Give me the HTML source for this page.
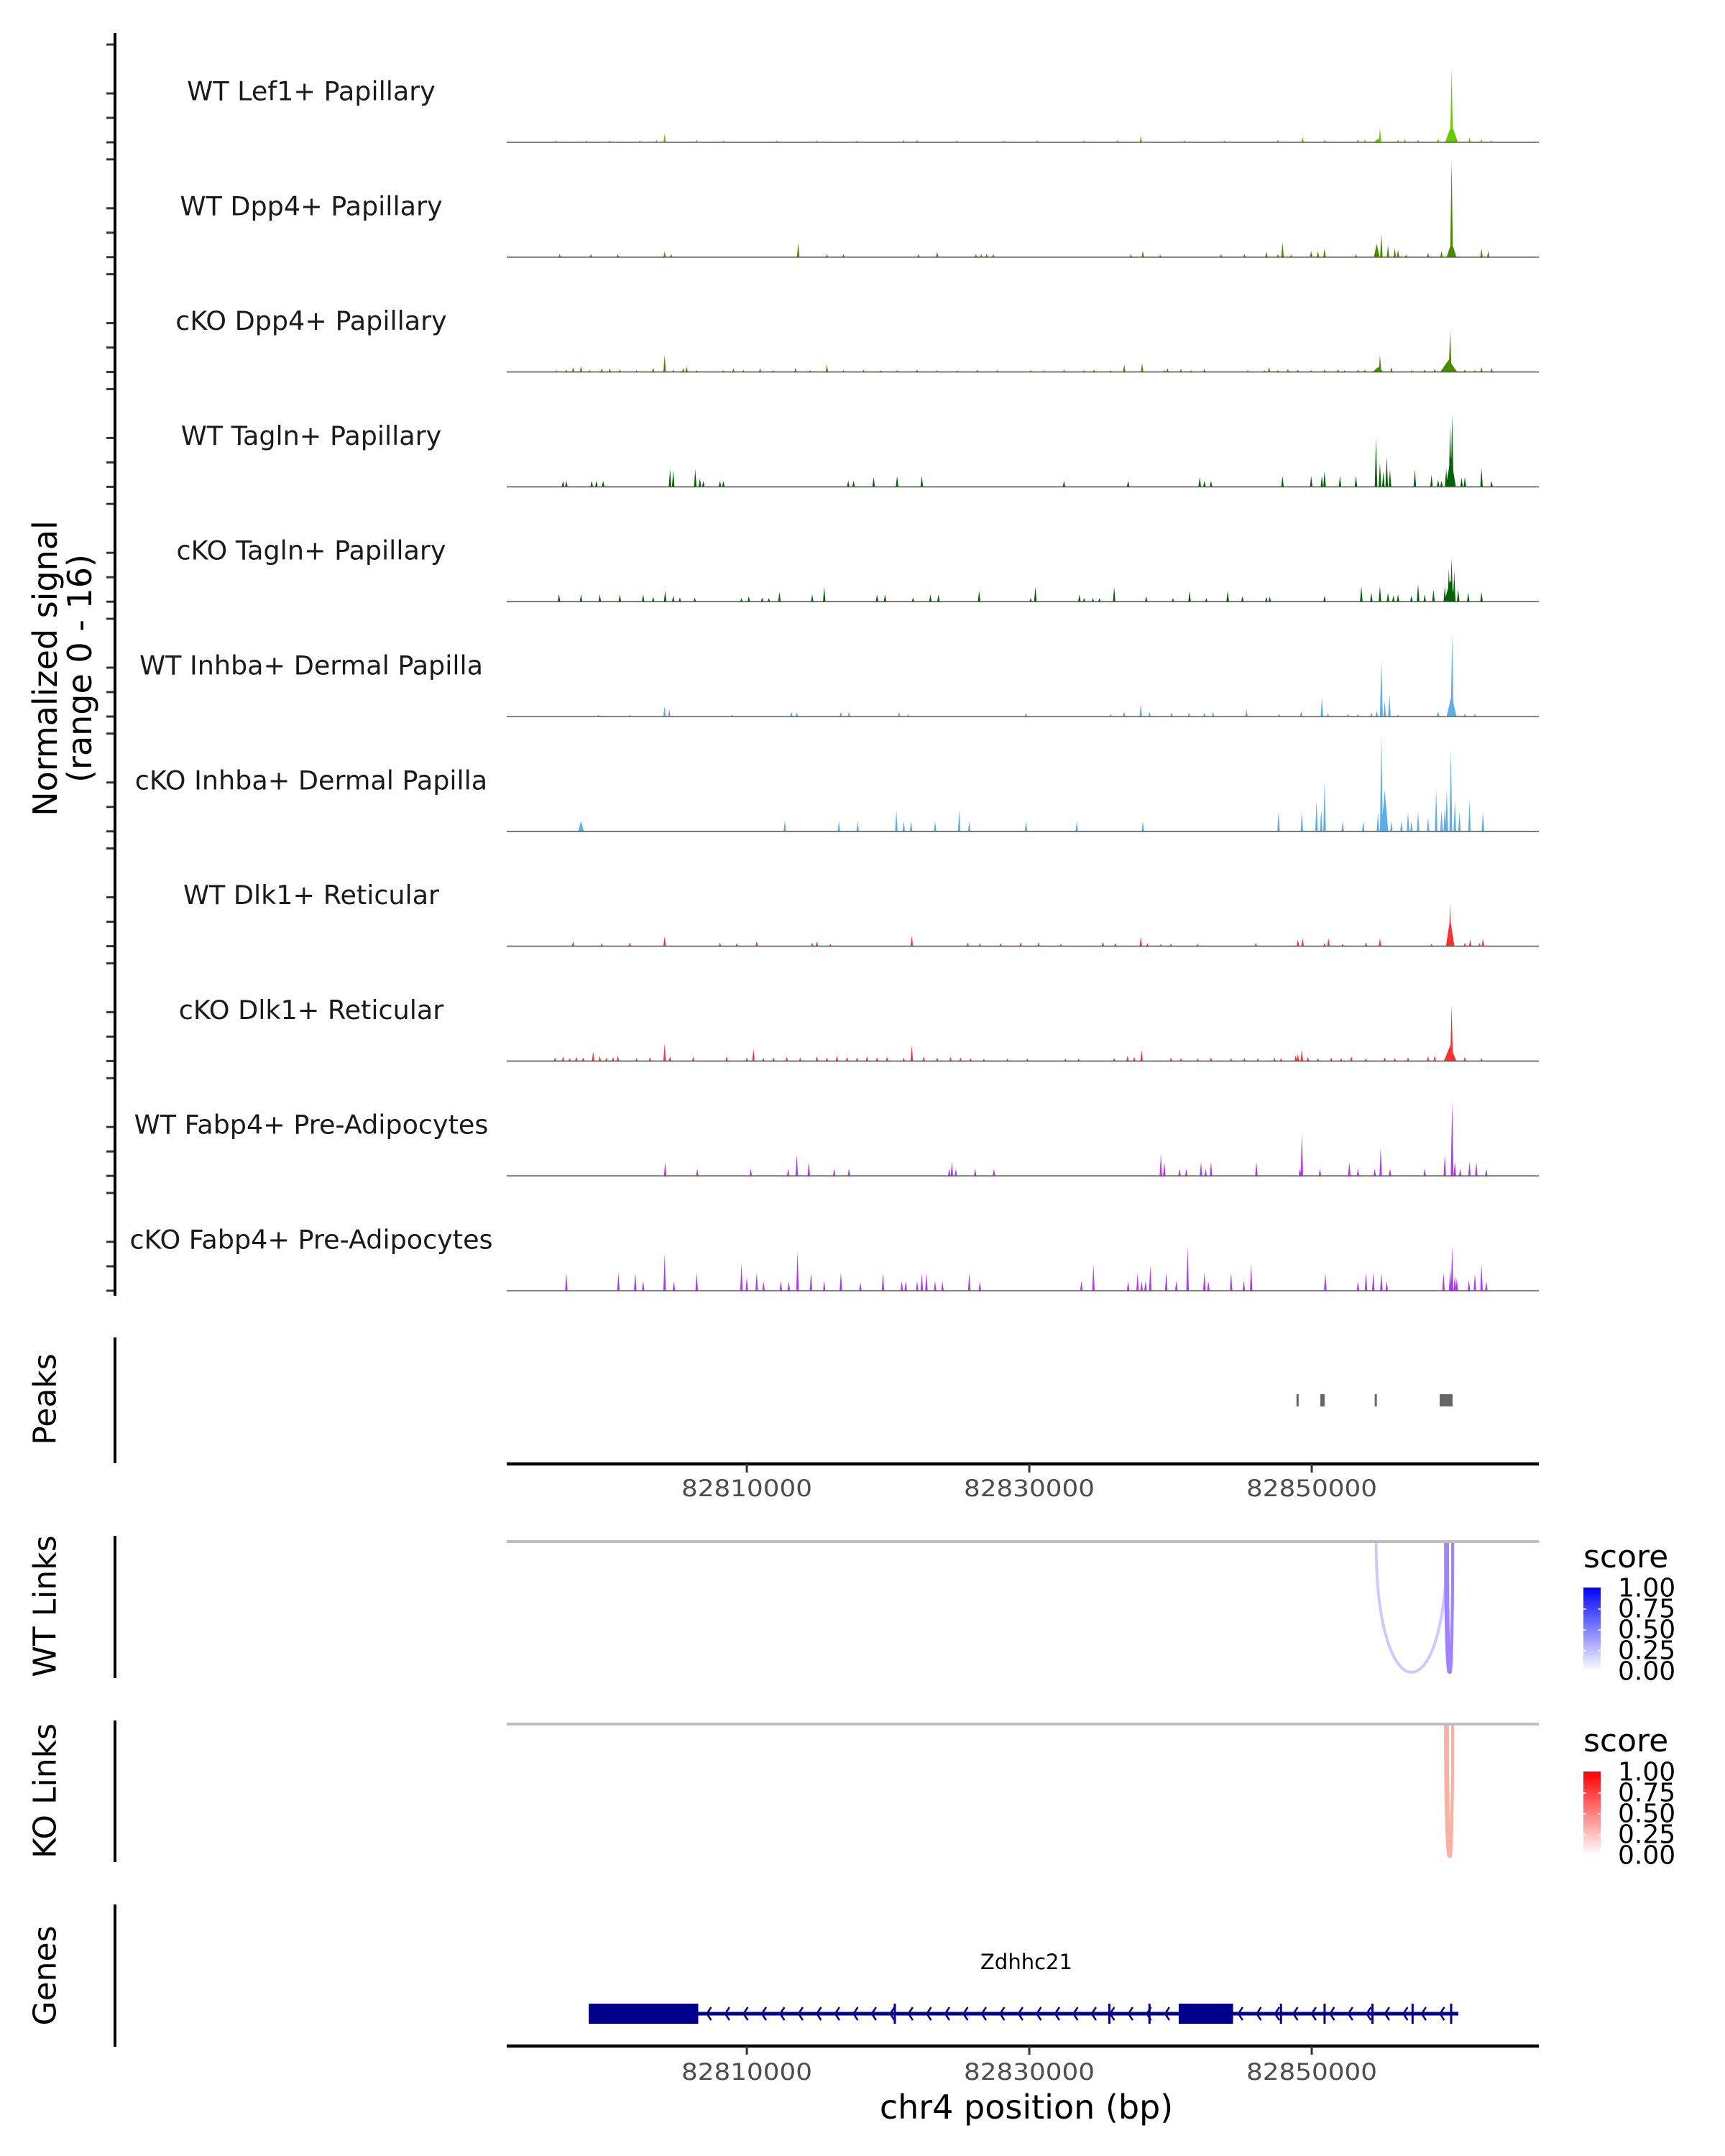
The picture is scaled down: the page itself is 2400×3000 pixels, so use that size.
<!DOCTYPE html>
<html><head><meta charset="utf-8"><style>
html,body{margin:0;padding:0;background:#fff;}
svg{display:block;font-family:"DejaVu Sans","Liberation Sans",sans-serif;}
</style></head>
<body>
<svg id="chart" xmlns="http://www.w3.org/2000/svg" width="2400" height="3000" viewBox="0 0 2400 3000">
<rect width="2400" height="3000" fill="#fff"/>
<g id="tracks"></g>
<line x1="160" y1="46" x2="160" y2="1803" stroke="#000" stroke-width="4"/>
<text transform="rotate(-90)" x="-930" y="63" font-size="46" text-anchor="middle" dominant-baseline="central" fill="#000">Normalized signal</text>
<text transform="rotate(-90)" x="-930" y="111" font-size="46" text-anchor="middle" dominant-baseline="central" fill="#000">(range 0 - 16)</text>

<line x1="160" y1="1861" x2="160" y2="2036" stroke="#000" stroke-width="4"/>
<text transform="rotate(-90)" x="-1947" y="63" font-size="44" text-anchor="middle" dominant-baseline="central">Peaks</text>
<g id="peaks"></g>
<line x1="705" y1="2037" x2="2141" y2="2037" stroke="#000" stroke-width="4.5"/>
<g id="xaxis1"></g>

<line x1="160" y1="2137" x2="160" y2="2335" stroke="#000" stroke-width="4"/>
<text transform="rotate(-90)" x="-2235" y="63" font-size="44" text-anchor="middle" dominant-baseline="central">WT Links</text>
<line x1="705" y1="2145" x2="2141" y2="2145" stroke="#bebebe" stroke-width="4"/>
<g id="wtlinks"></g>

<line x1="160" y1="2394" x2="160" y2="2591" stroke="#000" stroke-width="4"/>
<text transform="rotate(-90)" x="-2492" y="63" font-size="44" text-anchor="middle" dominant-baseline="central">KO Links</text>
<line x1="705" y1="2399" x2="2141" y2="2399" stroke="#bebebe" stroke-width="4"/>
<g id="kolinks"></g>

<line x1="160" y1="2650" x2="160" y2="2848" stroke="#000" stroke-width="4"/>
<text transform="rotate(-90)" x="-2749" y="63" font-size="44" text-anchor="middle" dominant-baseline="central">Genes</text>
<g id="genes"></g>
<text x="1428" y="2730" font-size="29" text-anchor="middle" dominant-baseline="central" fill="#000">Zdhhc21</text>
<line x1="705" y1="2847" x2="2141" y2="2847" stroke="#000" stroke-width="4.5"/>
<g id="xaxis2"></g>
<text x="1428" y="2932" font-size="46" text-anchor="middle" dominant-baseline="central" fill="#000">chr4 position (bp)</text>

<defs>
<linearGradient id="gBlue" x1="0" y1="1" x2="0" y2="0"><stop offset="0" stop-color="#ffffff"/><stop offset="1" stop-color="#0000ff"/></linearGradient>
<linearGradient id="gRed" x1="0" y1="1" x2="0" y2="0"><stop offset="0" stop-color="#ffffff"/><stop offset="1" stop-color="#ff0000"/></linearGradient>
</defs>
<g id="legends"></g>
</svg>
<script>
const ORIGIN_BP = 82790000;
const X_MIN_KB = 3.00, X_MAX_KB = 76.08;
const X_TICKS_BP = [82810000, 82830000, 82850000];
const Y_MAX = 16;
const trackNames = ["WT Lef1+ Papillary","WT Dpp4+ Papillary","cKO Dpp4+ Papillary","WT Tagln+ Papillary","cKO Tagln+ Papillary","WT Inhba+ Dermal Papilla","cKO Inhba+ Dermal Papilla","WT Dlk1+ Reticular","cKO Dlk1+ Reticular","WT Fabp4+ Pre-Adipocytes","cKO Fabp4+ Pre-Adipocytes"];
const trackColors = ["#66cc00","#4a8a00","#4a8a00","#006400","#006400","#5dadec","#5dadec","#ff3030","#ff3030","#b23aee","#b23aee"];
// peaks: [kb from origin, normalized signal, optional half-width kb]
const t1 = [[69.90,12.2,0.1],[69.90,2.9,0.45],[68.95,0.6],[71.17,0.8],[72.02,0.5],[66.59,0.5],[64.83,2.3],[64.7,0.6,0.3],[47.90,1.1],[14.18,1.4],[59.35,0.9],
 [6.51,0.3],[8.64,0.3],[10.30,0.3],[12.43,0.3],[13.61,0.4],[16.45,0.4],[18.34,0.3],[22.12,0.3],[24.96,0.3],[27.80,0.3],[31.11,0.4],[32.06,0.4],[34.89,0.3],[38.21,0.3],[40.57,0.3],[43.88,0.3],[46.25,0.4],[50.98,0.3],[53.81,0.3],[57.60,0.4],[60.91,0.4],[63.27,0.5],[63.75,0.4],[66.11,0.4],[67.53,0.4],[72.73,0.3]];
const t2 = [[69.90,16,0.1],[69.90,2.5,0.35],[64.93,3.8],[64.60,2.2,0.2],[65.40,2.0],[65.88,1.5],[66.11,1.2],[57.93,2.4],[23.64,2.4],[60.91,1.4],[59.96,1.0],[60.44,1.0],[72.02,1.4],[72.50,1.0],[68.24,0.7],[69.19,1.0],[14.18,0.9],[14.65,0.5],[6.75,0.5],[8.97,0.5],[10.87,0.5],[33.48,0.9],[32.15,0.5],[25.67,0.5],[26.85,0.5],[36.22,0.5],[36.60,0.5],[36.98,0.5],[37.45,0.5],[47.19,0.5],[48.04,1.0],[49.27,0.4],[53.58,0.5],[55.23,0.5],[56.79,0.9],[57.60,0.5],[58.54,0.4],[63.13,0.5],[66.68,0.4]];
const t3 = [[69.80,7.0,0.1],[69.70,2.0,0.6],[64.83,2.8],[64.7,0.8,0.4],[14.18,2.8],[47.99,1.5],[46.72,1.2],[25.67,1.2],[56.98,0.8],[20.94,0.6],[23.45,0.7],[7.70,0.8],[8.26,1.0],[9.73,0.6],[10.30,0.6],[13.37,0.7],[15.50,0.7],[15.74,0.9],[19.05,0.6],[52.40,0.5],[49.79,0.6],[50.74,0.5],[72.02,0.8],[72.73,0.7],[65.64,0.8],[58.31,0.5],[61.86,0.5],
 [6.51,0.3],[7.22,0.4],[8.88,0.3],[11.01,0.4],[12.19,0.3],[14.79,0.4],[16.45,0.3],[18.34,0.3],[19.76,0.3],[21.89,0.3],[24.49,0.3],[26.85,0.3],[28.27,0.4],[29.45,0.3],[30.64,0.3],[32.06,0.4],[33.48,0.3],[34.89,0.3],[36.31,0.4],[37.73,0.3],[40.10,0.3],[41.04,0.3],[42.46,0.4],[43.88,0.3],[44.59,0.4],[45.77,0.3],[49.56,0.3],[51.45,0.3],[55.47,0.3],[56.65,0.3],[57.60,0.3],[59.02,0.4],[59.96,0.3],[60.91,0.4],[62.33,0.3],[63.27,0.4],[63.75,0.4],[67.06,0.3],[68.00,0.4],[68.71,0.5],[70.84,0.4],[71.55,0.3]];
const t4 = [[69.94,11.8,0.1],[69.80,10,0.1],[69.85,5,0.35],[64.55,8.0],[64.83,4],[65.31,5.0],[65.54,2.8],[65.07,2.5],[72.02,3.1],[67.30,2.9],[68.48,2],[70.84,1.6],[70.61,1.5],[69.19,1.0],[60.91,2.6],[60.72,1.8],[62.00,1.8],[63.13,1.8],[59.96,1.8],[57.93,1.8],[14.56,2.9],[14.79,2.7],[16.35,2.9],[16.68,1.4],[16.92,1.0],[30.64,1.8],[32.39,1.8],[28.98,1.6],[27.18,1.0],[27.56,1.0],[52.07,1.6],[52.40,1.0],[52.87,1.0],[42.46,1.0],[47.00,1.0],[6.99,1.0],[7.22,1.0],[9.02,1.0],[9.35,1.0],[9.83,1.0],[18.10,1.0],[18.34,1.0],[72.73,1.0],[68.95,1.2],[69.52,3.0]];
const t5 = [[69.90,7.1,0.1],[69.71,5.5],[70.09,5],[69.8,3.5,0.4],[67.53,2.9],[64.83,2.6],[63.51,2.6],[64.22,1.5],[65.40,1.5],[68.62,2.0],[71.08,1.5],[72.02,1.6],[54.05,1.8],[51.35,1.8],[46.01,2.4],[40.43,2.4],[36.45,1.8],[25.48,2.4],[22.31,1.6],[14.22,1.8],[6.70,1.3],[8.26,1.2],[9.59,1.2],[11.01,1.2],[12.66,1.2],[13.37,0.8],[14.79,1.0],[15.26,0.7],[16.31,0.7],[19.62,0.6],[20.14,0.9],[21.08,0.7],[21.56,0.6],[24.63,1.2],[29.22,1.2],[29.79,1.2],[31.77,0.7],[33.00,1.2],[33.57,1.2],[40.10,0.6],[43.55,1.2],[43.88,0.6],[44.50,0.6],[44.97,0.6],[48.28,0.9],[50.17,0.6],[52.54,0.6],[55.09,0.9],[56.79,0.8],[57.03,0.8],[60.91,1.0],[65.78,1.0],[66.11,1.2],[70.37,2.0],[69.42,2.5],[68.00,1.2],[67.06,1.0]];
const t6 = [[69.94,13.5,0.1],[69.90,3.5,0.35],[64.93,9.2,0.1],[65.50,3.6],[65.17,2.5],[64.60,1.0],[60.72,3.1],[47.90,2.1],[14.18,1.7],[14.51,1.2],[55.38,1.2],[53.01,0.8],[59.25,0.9],[46.72,0.8],[48.52,0.8],[9.49,0.3],[11.72,0.3],[18.95,0.3],[23.16,0.8],[23.54,0.7],[26.66,0.8],[27.23,0.8],[30.78,0.8],[31.44,0.4],[39.77,0.6],[45.77,0.4],[50.08,0.7],[51.31,0.7],[52.40,0.6],[57.69,0.4],[61.15,0.5],[62.56,0.4],[63.27,0.4],[64.22,0.7],[66.11,0.3],[68.95,0.9],[70.84,0.5],[71.55,0.4]];
const t7 = [[64.93,16,0.1],[65.17,6.7,0.25],[69.85,13.5,0.1],[69.56,7],[68.81,6.9],[69.42,4],[70.13,5],[60.91,8.2],[60.34,5],[60.67,3.5],[59.30,3.2],[57.65,3.2],[72.12,3.2],[71.17,5.1],[70.46,3.2],[66.82,3.2],[67.53,3.2],[67.06,1.7],[68.24,2.3],[63.65,1.7],[62.19,1.7],[65.64,1.7],[30.59,3.5],[35.04,3.5],[8.26,1.7,0.2],[22.69,1.7],[26.52,1.7],[27.85,1.7],[31.11,1.7],[31.63,1.7],[33.33,1.7],[35.75,1.7],[39.77,1.7],[43.36,1.7],[48.04,1.7],[69.19,3.5],[64.69,3],[66.35,1.7]];
const t8 = [[69.80,7.1,0.1],[69.80,4.5,0.3],[47.90,1.6],[14.18,1.6],[31.68,1.7],[59.35,1.3],[59.02,1.1],[61.19,1.3],[64.83,1.3],[72.12,1.3],[71.22,1.1],[7.70,0.8],[9.73,0.5],[11.72,0.6],[18.10,0.6],[19.29,0.5],[20.70,0.8],[24.63,0.6],[24.96,0.8],[25.91,0.4],[35.65,0.6],[36.50,0.5],[37.97,0.5],[39.39,0.7],[40.66,0.7],[42.23,0.4],[45.21,0.7],[46.10,0.5],[48.37,0.5],[49.32,0.4],[50.03,0.4],[51.92,0.4],[56.04,0.6],[60.91,0.5],[62.19,0.4],[63.84,0.6],[68.48,0.4],[70.84,0.6],[71.88,0.5]];
const t9 = [[69.90,9.2,0.1],[69.80,2.5,0.45],[14.18,2.8],[31.68,2.6],[20.47,2.0],[9.12,1.6],[47.95,1.8],[59.30,2.0],[59.02,1.2],[58.87,1.0],
 [6.42,0.6],[6.99,0.8],[7.46,0.5],[7.93,0.7],[8.41,0.6],[9.59,0.8],[10.06,0.6],[10.53,0.7],[10.87,0.9],[12.19,0.5],[13.14,0.6],[14.56,0.8],[16.21,0.7],[18.58,0.8],[20.00,0.6],[21.18,0.5],[21.89,0.6],[22.83,0.7],[23.78,0.6],[24.96,0.8],[25.67,0.6],[26.38,0.9],[27.09,0.7],[27.80,0.6],[28.51,0.8],[29.22,0.6],[29.93,0.7],[31.11,0.6],[32.53,0.8],[33.48,0.6],[34.42,0.7],[35.13,0.6],[35.84,0.5],[36.79,0.4],[38.44,0.4],[39.86,0.4],[42.56,0.4],[43.50,0.4],[46.01,0.5],[46.96,0.9],[47.43,0.7],[50.03,0.6],[50.74,0.5],[51.92,0.5],[52.87,0.6],[54.29,0.5],[55.23,0.5],[56.18,0.5],[57.36,0.6],[57.83,0.5],[59.73,0.7],[60.44,0.5],[61.38,0.6],[62.09,0.5],[62.80,0.8],[63.84,0.5],[65.17,0.6],[65.88,0.5],[66.82,0.6],[68.24,0.8],[68.71,0.9],[70.84,0.7],[72.02,0.5]];
const t10 = [[69.94,12.2,0.1],[69.42,3.5],[70.13,2.3],[70.51,1.2],[59.30,7.1],[59.16,1.2],[64.88,4.6],[64.46,1.2],[49.32,3.7],[49.56,2.3],[23.54,3.5],[24.39,2.3],[22.93,1.2],[14.22,2.3],[16.49,1.2],[20.28,1.2],[26.19,1.2],[27.23,1.2],[34.52,2.3],[34.33,1.2],[34.80,1.2],[36.17,1.2],[37.50,1.2],[50.64,1.2],[51.12,1.2],[52.16,2.3],[52.87,2.3],[52.49,1.2],[56.08,2.3],[60.58,1.2],[62.66,2.3],[63.27,1.2],[65.54,1.2],[68.00,1.2],[71.17,2.3],[71.65,2.3],[72.36,1.2]];
const t11 = [[51.21,7.4],[69.94,7.4],[23.59,6.5],[14.18,6.0],[72.02,4.5],[44.54,4.4],[55.71,4.3],[19.62,4.6],[7.22,3.0],[10.91,3.0],[12.10,3.0],[16.45,3.0],[24.54,3.0],[26.66,3.0],[32.72,3.0],[48.57,4.2],[47.67,3.0],[49.70,3.0],[52.40,3.0],[54.29,3.0],[63.84,3.0],[64.36,3.0],[64.93,3.0],[60.96,3.0],[69.33,3.0],[71.55,2.8],[71.13,1.8],[20.70,3.0],[20.00,2.2],[12.66,1.6],[14.84,1.6],[21.18,1.6],[22.41,1.6],[22.97,1.6],[25.48,1.6],[28.04,1.4],[29.64,2.9],[30.97,1.6],[31.25,1.6],[32.06,1.6],[32.39,2.9],[33.33,1.6],[33.85,1.6],[35.75,2.9],[36.50,1.6],[43.69,1.6],[47.00,1.6],[47.95,1.6],[48.23,1.6],[50.41,1.6],[52.68,1.6],[55.19,1.6],[63.27,1.6],[65.31,1.6],[70.27,2.0],[72.36,1.6],[69.80,3.5],[70.13,2.5]];
const trackData = [t1,t2,t3,t4,t5,t6,t7,t8,t9,t10,t11];
// peak regions [startKb, endKb]
const peakStarts = [58.92, 60.61, 64.46, 69.06];
const peakEnds   = [59.07, 60.91, 64.61, 69.97];
// links [startKb, endKb, score]
const wtLinkStart = [64.56, 69.47, 69.62];
const wtLinkEnd   = [69.57, 69.98, 69.98];
const wtLinkScore = [0.25, 0.55, 0.55];
const koLinkStart = [69.47, 69.62];
const koLinkEnd   = [69.98, 69.98];
const koLinkScore = [0.4, 0.4];
// gene model
const geneStartKb = 8.81, geneEndKb = 70.38;
const exonStarts = [8.81, 50.58];
const exonEnds   = [16.56, 54.43];
const smallExons = [30.48, 45.67, 48.51, 57.82, 60.91, 64.30, 67.14, 69.87];
const legendTicks = ["1.00","0.75","0.50","0.25","0.00"];

const NS = "http://www.w3.org/2000/svg";
const X0 = 705, X1 = 2141;
function xs(kb){ return X0 + (kb - X_MIN_KB) / (X_MAX_KB - X_MIN_KB) * (X1 - X0); }
function el(tag, attrs, parent){ const e = document.createElementNS(NS, tag); for (const k in attrs) e.setAttribute(k, attrs[k]); parent.appendChild(e); return e; }

const gT = document.getElementById("tracks");
const TH = 136, BASE0 = 198, STEP = 159.8;
function ys(v, base){ return base - Math.min(v, Y_MAX) / Y_MAX * TH; }
trackNames.forEach((name, i) => {
  const base = BASE0 + i * STEP;
  const g = el("g", {}, gT);
  
  
  let d = "";
  trackData[i].forEach(p => {
    const w = (p[2] || 0.09);
    const xa = xs(p[0] - w), xb = xs(p[0]), xc = xs(p[0] + w);
    d += "M" + xa.toFixed(1) + "," + base + "L" + xb.toFixed(1) + "," + ys(p[1], base).toFixed(1) + "L" + xc.toFixed(1) + "," + base + "Z";
  });
  const area = el("path", {d: d, fill: trackColors[i]}, g);
  
  
  const bl = el("line", {x1: X0, x2: X1, y1: base, y2: base, stroke: "#5a5a5a", "stroke-width": 1.6}, g);
  
  
  const lab = el("text", {x: 433, y: base - 71, "font-size": 36.5, "text-anchor": "middle", "dominant-baseline": "central", fill: "#1a1a1a"}, g);
  lab.textContent = name;
  
  
  [0, 4, 8, 16].forEach(v => {
    const y = ys(v, base);
    const t = el("line", {x1: 148, x2: 160, y1: y, y2: y, stroke: "#333", "stroke-width": 3}, g);
    
    
  });
});

const gP = document.getElementById("peaks");
peakStarts.forEach((s, i) => {
  const x = xs(s), w = Math.max(3, xs(peakEnds[i]) - x);
  const r = el("rect", {x: x, y: 1940, width: w, height: 17, fill: "#666"}, gP);
  
  
});

function xAxis(gid, yLine, yLab){
  const g = document.getElementById(gid);
  X_TICKS_BP.forEach(bp => {
    const x = xs((bp - ORIGIN_BP) / 1000);
    const t = el("line", {x1: x, x2: x, y1: yLine, y2: yLine + 12, stroke: "#333", "stroke-width": 3}, g);
    
    
    const l = el("text", {x: x - 91, y: yLab, "font-size": 32, textLength: 182, lengthAdjust: "spacingAndGlyphs", "dominant-baseline": "central", fill: "#4d4d4d"}, g);
    l.textContent = String(bp);
    
    
  });
}
xAxis("xaxis1", 2037, 2071);
xAxis("xaxis2", 2847, 2883);

function links(gid, starts, ends, scores, y0, depth, rgb){
  const g = document.getElementById(gid);
  starts.forEach((s, i) => {
    const a = xs(s), b = xs(ends[i]), c = 1.333 * depth;
    const sc = scores[i];
    const col = "rgb(" + rgb.map(v => Math.round(255 - (255 - v) * sc)).join(",") + ")";
    const p = el("path", {d: "M" + a + "," + y0 + " C" + a + "," + (y0 + c) + " " + b + "," + (y0 + c) + " " + b + "," + y0, fill: "none", stroke: col, "stroke-width": 4}, g);
    
    
  });
}
links("wtlinks", wtLinkStart, wtLinkEnd, wtLinkScore, 2147, 180, [80, 30, 255]);
links("kolinks", koLinkStart, koLinkEnd, koLinkScore, 2401, 182, [240, 60, 20]);

const gG = document.getElementById("genes");
const GY = 2802, NAVY = "#00008b";
const gl = el("line", {x1: xs(geneStartKb), x2: xs(geneEndKb), y1: GY, y2: GY, stroke: NAVY, "stroke-width": 5}, gG);


exonStarts.forEach((s, i) => {
  const r = el("rect", {x: xs(s), y: GY - 14, width: xs(exonEnds[i]) - xs(s), height: 28, fill: NAVY}, gG);
  
  
});
smallExons.forEach(s => {
  const r = el("rect", {x: xs(s) - 1.5, y: GY - 14, width: 3, height: 28, fill: NAVY}, gG);
  
  
});
let chev = "";
for (let x = xs(exonEnds[0]) + 14; x < xs(geneEndKb); x += 25.5) {
  if (x > xs(exonStarts[1]) - 6 && x < xs(exonEnds[1]) + 6) continue;
  chev += "M" + (x + 4) + "," + (GY - 9) + "L" + (x - 2) + "," + GY + "L" + (x + 4) + "," + (GY + 9);
}
const ch = el("path", {d: chev, fill: "none", stroke: NAVY, "stroke-width": 2.5}, gG);



const gL = document.getElementById("legends");
function legend(titleY, barTop, grad, nm){
  const g = el("g", {}, gL);
  
  
  const t = el("text", {x: 2203, y: titleY, "font-size": 44, fill: "#000"}, g);
  t.textContent = "score";
  
  
  const r = el("rect", {x: 2203, y: barTop, width: 24, height: 116, fill: "url(#" + grad + ")"}, g);
  
  
  legendTicks.forEach((lab, i) => {
    const y = barTop + 1 + i * 29;
    if (i > 0 && i < 4) {
      const a = el("line", {x1: 2203, x2: 2207, y1: y, y2: y, stroke: "#fff", "stroke-width": 1.5}, g);
      
      
      const b = el("line", {x1: 2223, x2: 2227, y1: y, y2: y, stroke: "#fff", "stroke-width": 1.5}, g);
      
      
    }
    const tx = el("text", {x: 2251, y: y, "font-size": 36, "dominant-baseline": "central", fill: "#000"}, g);
    tx.textContent = lab;
    
    
  });
}
legend(2181, 2209, "gBlue", "wt-score-legend");
legend(2437, 2465, "gRed", "ko-score-legend");
</script>
</body></html>
